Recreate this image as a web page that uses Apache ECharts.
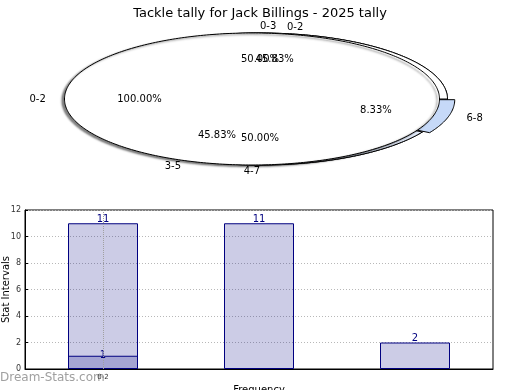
<!DOCTYPE html>
<html><head><meta charset="utf-8">
<script src="https://cdn.jsdelivr.net/npm/echarts@6/dist/echarts.min.js"></script>
<style>html,body{margin:0;padding:0;background:#fff}#c{width:520px;height:390px}</style>
</head><body><div id="c"></div>
<script>
const titleText = 'Tackle tally for Jack Billings - 2025 tally';
// pie layers (drawn overlapping, as in the reference)
const pieACats = ['0-2'];
const pieAVals = [1];
const pieBCats = ['0-3', '4-7'];
const pieBVals = [1, 1];
const pieCCats = ['0-2', '3-5', '6-8'];
const pieCVals = [11, 11, 2];
// bar chart
const barCats = ['0-2', '3-5', '6-8'];
const barTickLabels = ['0-2', '', ''];
const barTotals = [11, 11, 2];
const barOverlay = [1, null, null];
const yMin = 0, yMax = 12, yStep = 2;

const FONT = '"DejaVu Sans", Verdana, sans-serif';

function pieSeries(cats, vals, o) {
  const total = vals.reduce((a, b) => a + b, 0);
  function geom(i, v) {
    let start = 0;
    for (let k = 0; k < i; k++) start += vals[k];
    const a0 = start / total * 360, a1 = (start + v) / total * 360;
    const mid = (a0 + a1) / 2 * Math.PI / 180;
    const ex = (o.explode && o.explode[i]) || 0;
    const cx = o.cx + ex * o.rx * Math.cos(mid);
    const cy = o.cy - ex * o.ry * Math.sin(mid);
    return { a0, a1, mid, cx, cy };
  }
  const data = vals.map((v, i) => [i, v]);
  const shapes = {
    type: 'custom', coordinateSystem: 'none', z: 1, silent: true,
    data: data,
    renderItem: function (params, api) {
      const i = params.dataIndex, v = api.value(1);
      const g = geom(i, v);
      const pts = [];
      const full = (g.a1 - g.a0) >= 359.999;
      if (!full) pts.push([g.cx, g.cy]);
      const n = Math.max(6, Math.ceil(g.a1 - g.a0));
      for (let s = 0; s <= n; s++) {
        const t = (g.a0 + (g.a1 - g.a0) * s / n) * Math.PI / 180;
        pts.push([g.cx + o.rx * Math.cos(t), g.cy - o.ry * Math.sin(t)]);
      }
      const style = { fill: o.colors[i % o.colors.length], stroke: '#000', lineWidth: 1 };
      if (o.shadow) {
        style.shadowBlur = 2; style.shadowColor = 'rgba(0,0,0,0.5)';
        style.shadowOffsetX = -2.5; style.shadowOffsetY = 1.5;
      }
      return { type: 'polygon', shape: { points: pts }, style: style };
    }
  };
  const labels = {
    type: 'custom', coordinateSystem: 'none', z: 10, silent: true,
    data: data,
    renderItem: function (params, api) {
      const i = params.dataIndex, v = api.value(1);
      const g = geom(i, v);
      const c = Math.cos(g.mid), s = Math.sin(g.mid);
      const lx = g.cx + 1.1 * o.rx * c, ly = g.cy - 1.1 * o.ry * s;
      const px = g.cx + 0.6 * o.rx * c, py = g.cy - 0.6 * o.ry * s;
      return {
        type: 'group', children: [
          { type: 'text', x: lx, y: ly, style: { text: cats[i], fill: '#000', font: '10px ' + FONT, textAlign: c > 0 ? 'left' : 'right', textVerticalAlign: 'middle' } },
          { type: 'text', x: px, y: py, style: { text: (v / total * 100).toFixed(2) + '%', fill: '#000', font: '10px ' + FONT, textAlign: 'center', textVerticalAlign: 'middle' } }
        ]
      };
    }
  };
  return [shapes, labels];
}

const pB = pieSeries(pieBCats, pieBVals, { cx: 260, cy: 99, rx: 187.5, ry: 66, colors: ['#ffffff', '#ffffff'] });
const pC = pieSeries(pieCCats, pieCVals, { cx: 260, cy: 99, rx: 187.5, ry: 66, colors: ['#ffffff', '#e4ecfb', '#c6d9f8'], explode: [0, 0, 0.04] });
const pA = pieSeries(pieACats, pieAVals, { cx: 252, cy: 99, rx: 187.5, ry: 66, colors: ['#ffffff'], shadow: true });

const chart = echarts.init(document.getElementById('c'));
chart.setOption({
  animation: false,
  textStyle: { fontFamily: FONT },
  title: { text: titleText, left: 'center', top: 2, textStyle: { fontSize: 13, fontWeight: 'normal', color: '#000', fontFamily: FONT } },
  graphic: [{ type: 'text', left: 0, top: 372, style: { text: 'Dream-Stats.com', fill: '#a0a0a0', font: '12px ' + FONT } }],
  grid: { left: 25, top: 210, width: 468, height: 159, show: true, borderColor: '#000', borderWidth: 1, backgroundColor: 'transparent', containLabel: false, outerBoundsMode: 'none' },
  xAxis: {
    type: 'category', data: barCats,
    axisLine: { lineStyle: { color: '#000' } }, axisTick: { show: false },
    axisLabel: { formatter: (v, i) => barTickLabels[i], fontSize: 7, color: '#333', margin: 5 },
    name: 'Frequency', nameLocation: 'middle', nameGap: 16, nameMoveOverlap: false,
    nameTextStyle: { fontSize: 10, color: '#000' }
  },
  yAxis: {
    type: 'value', min: yMin, max: yMax, interval: yStep,
    axisLine: { show: true, lineStyle: { color: '#000' } },
    axisTick: { show: true, inside: true, length: 3, lineStyle: { color: '#000' } },
    axisLabel: { fontSize: 8, color: '#333', margin: 4 },
    splitLine: { lineStyle: { type: [1, 2], color: '#b8b8b8' } },
    name: 'Stat Intervals', nameLocation: 'middle', nameGap: 14, nameRotate: 90, nameMoveOverlap: false,
    nameTextStyle: { fontSize: 10, color: '#000' }
  },
  series: [
    pB[0], pC[0], pA[0],
    {
      type: 'bar', data: barTotals, barWidth: 70,
      itemStyle: { color: 'rgba(0,0,128,0.2)', borderColor: '#000080', borderWidth: 1 },
      label: { show: true, position: 'top', distance: -1, color: '#000080', fontSize: 10 },
      markLine: { silent: true, symbol: 'none', label: { show: false },
        lineStyle: { type: 'dotted', color: '#a0a0a0', width: 1 },
        data: [{ xAxis: barTickLabels[0] }] }
    },
    {
      type: 'bar', data: barOverlay, barWidth: 70, barGap: '-100%',
      itemStyle: { color: 'rgba(0,0,128,0.2)', borderColor: '#000080', borderWidth: 1 },
      label: { show: true, position: 'top', distance: -5, color: '#000080', fontSize: 10 }
    },
    pB[1], pC[1], pA[1]
  ]
});
</script></body></html>
